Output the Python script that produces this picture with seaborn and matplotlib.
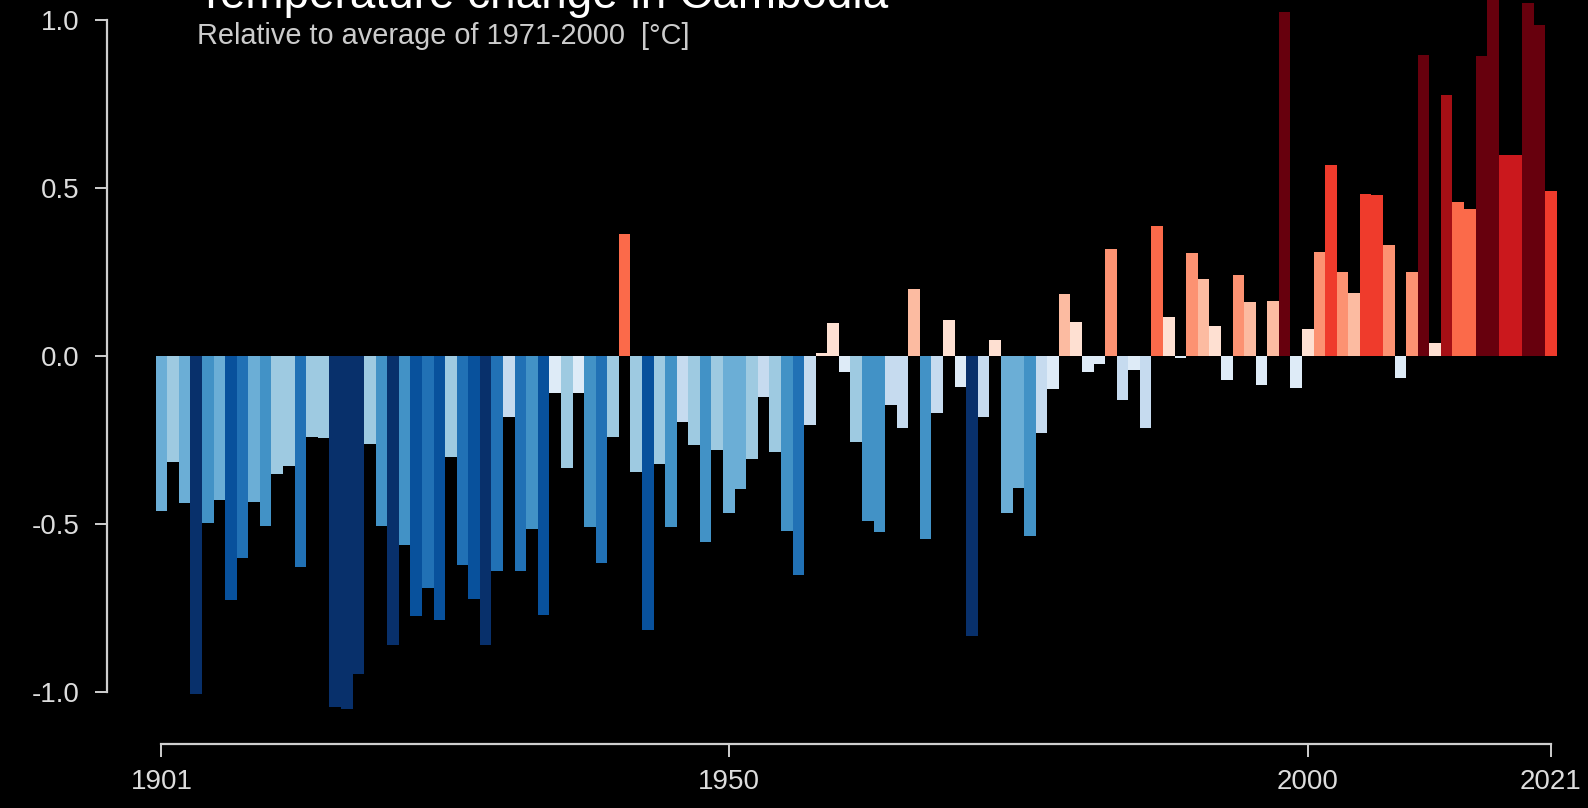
import numpy as np
import pandas as pd
import seaborn as sns
import matplotlib.pyplot as plt
from matplotlib.ticker import FuncFormatter

# Annual temperature anomaly in Cambodia, relative to 1971-2000 [°C]
years = list(range(1901, 2022))
anomaly = [
    -0.463, -0.315, -0.437, -1.006, -0.499, -0.429, -0.727, -0.603, -0.435, -0.507,  # 1901-1910
    -0.351, -0.328, -0.630, -0.240, -0.244, -1.046, -1.051, -0.946, -0.262, -0.507,  # 1911-1920
    -0.862, -0.563, -0.774, -0.692, -0.787, -0.301, -0.623, -0.723, -0.860, -0.642,  # 1921-1930
    -0.183, -0.642, -0.514, -0.773, -0.109, -0.334, -0.111, -0.509, -0.617, -0.240,  # 1931-1940
    0.362, -0.346, -0.816, -0.321, -0.509, -0.197, -0.265, -0.554, -0.280, -0.469,   # 1941-1950
    -0.397, -0.306, -0.122, -0.287, -0.521, -0.654, -0.206, 0.008, 0.097, -0.049,    # 1951-1960
    -0.256, -0.493, -0.523, -0.146, -0.216, 0.201, -0.545, -0.170, 0.106, -0.092,    # 1961-1970
    -0.835, -0.182, 0.048, -0.468, -0.392, -0.537, -0.228, -0.098, 0.185, 0.102,     # 1971-1980
    -0.047, -0.025, 0.320, -0.132, -0.042, -0.214, 0.386, 0.115, -0.005, 0.307,      # 1981-1990
    0.228, 0.088, -0.072, 0.241, 0.162, -0.087, 0.165, 1.024, -0.096, 0.080,         # 1991-2000
    0.310, 0.568, 0.249, 0.187, 0.484, 0.479, 0.330, -0.065, 0.249, 0.897,           # 2001-2010
    0.038, 0.777, 0.459, 0.439, 0.895, 1.100, 0.599, 0.599, 1.052, 0.986,            # 2011-2020
    0.491,                                                                           # 2021
]
tick_years = [1901, 1950, 2000, 2021]
y_ticks = [-1.0, -0.5, 0.0, 0.5, 1.0]

title = "Temperature change in Cambodia"
subtitle = "Relative to average of 1971-2000  [°C]"

# stripe palettes, lightest first
blues = ["#deebf7", "#c6dbef", "#9ecae1", "#6baed6", "#4292c6", "#2171b5", "#08519c", "#08306b"]
reds = ["#fee0d2", "#fcbba1", "#fc9272", "#fb6a4a", "#ef3b2c", "#cb181d", "#a50f15", "#67000d"]
step = 0.119


def stripe_color(v):
    k = min(int(abs(v) / step), 7)
    return reds[k] if v >= 0 else blues[k]


colors = [stripe_color(v) for v in anomaly]
df = pd.DataFrame({"year": [str(y) for y in years], "anomaly": anomaly})

plt.rcParams["font.family"] = ["Liberation Sans", "DejaVu Sans"]
fig = plt.figure(figsize=(15.88, 8.08), dpi=100, facecolor="black")
ax = fig.add_axes([155.7 / 1588, 1 - 744 / 808, 1401 / 1588, 744 / 808])
ax.set_facecolor("black")

sns.barplot(data=df, x="year", y="anomaly", hue="year", palette=colors, legend=False,
            errorbar=None, saturation=1, width=1.0, linewidth=0, ax=ax)

ax.set_xlim(-0.5, len(years) - 0.5)
ax.set_ylim(-1.156, 1.0605)
ax.set_xlabel("")
ax.set_ylabel("")

ax.set_xticks([years.index(y) for y in tick_years])
ax.set_xticklabels([str(y) for y in tick_years])
ax.set_yticks(y_ticks)
ax.yaxis.set_major_formatter(FuncFormatter(lambda v, p: f"{v:.1f}"))

axis_col = "#cfcfcf"
for s in ["top", "right"]:
    ax.spines[s].set_visible(False)
ax.spines["left"].set_position(("outward", 35))
ax.spines["left"].set_bounds(-1, 1)
ax.spines["bottom"].set_bounds(0, len(years) - 1)
for s in ["left", "bottom"]:
    ax.spines[s].set_color(axis_col)
    ax.spines[s].set_linewidth(1.6)

ax.tick_params(axis="both", colors=axis_col, labelcolor="#dddddd", length=9, width=1.4, labelsize=20)
ax.tick_params(axis="y", pad=11)
ax.tick_params(axis="x", pad=9)

fig.text(197 / 1588, 1 - 8 / 808, title, color="white", fontsize=33, va="baseline", ha="left")
fig.text(197 / 1588, 1 - 44 / 808, subtitle, color="#cccccc", fontsize=20.8, va="baseline", ha="left")

fig.savefig("out.png", dpi=100, facecolor="black")
